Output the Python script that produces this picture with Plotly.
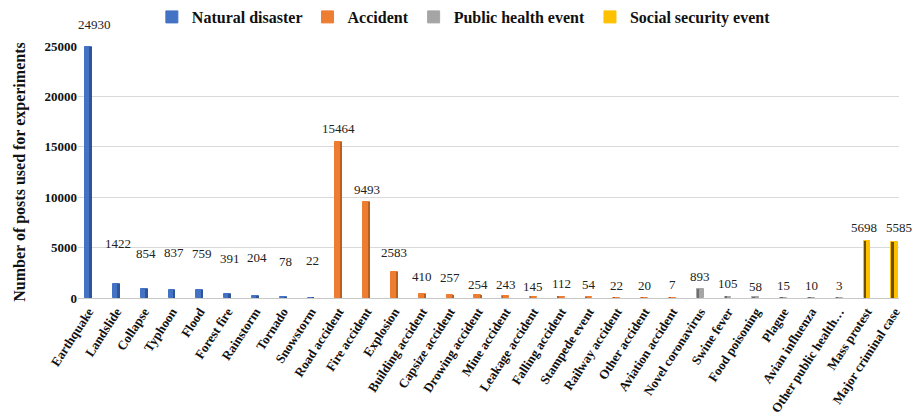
import plotly.graph_objects as go

# Event categories and post counts, grouped by event type
natural_labels = ["Earthquake", "Landslide", "Collapse", "Typhoon", "Flood",
                  "Forest fire", "Rainstorm", "Tornado", "Snowstorm"]
natural_values = [24930, 1422, 854, 837, 759, 391, 204, 78, 22]

accident_labels = ["Road accident", "Fire accident", "Explosion", "Building accident",
                   "Capsize accident", "Drowing accident", "Mine accident",
                   "Leakage accident", "Falling accident", "Stampede event",
                   "Railway accident", "Other accident", "Aviation accident"]
accident_values = [15464, 9493, 2583, 410, 257, 254, 243, 145, 112, 54, 22, 20, 7]

health_labels = ["Novel coronavirus", "Swine fever", "Food poisoning", "Plague",
                 "Avian influenza", "Other public health…"]
health_values = [893, 105, 58, 15, 10, 3]

social_labels = ["Mass protest", "Major criminal case"]
social_values = [5698, 5585]

y_ticks = [0, 5000, 10000, 15000, 20000, 25000]

# Pixel lift of each value label above its bar top
label_lift = [22, 40, 36, 37, 37, 36, 38, 36, 37,
              14, 13, 19, 17, 18, 11, 11, 10, 13, 13, 12, 12, 13,
              13, 13, 11, 12, 12, 12,
              13, 14]
# Horizontal nudge of value labels (pixels)
label_nudge = [6] + [2] * 8 + [0] * 19 + [-3, 4]

groups = [
    ("Natural disaster", natural_labels, natural_values, "#4472C4", "#2F5597"),
    ("Accident", accident_labels, accident_values, "#ED7D31", "#B85F22"),
    ("Public health event", health_labels, health_values, "#A5A5A5", "#6E6E6E"),
    ("Social security event", social_labels, social_values, "#FFC000", "#6B5000"),
]

SERIF = "Liberation Serif"
BAR_W = 0.24
CENTER = 14.5

all_labels = natural_labels + accident_labels + health_labels + social_labels
all_values = natural_values + accident_values + health_values + social_values

fig = go.Figure()
idx = 0
for name, labels, values, front, side in groups:
    n = len(labels)
    positions = list(range(idx, idx + n))
    fig.add_trace(go.Bar(
        x=positions, y=values, name=name,
        width=BAR_W, offset=-BAR_W / 2,
        marker=dict(color=front, line=dict(color=front, width=1)),
        hoverinfo="x+y",
    ))
    # darker side face giving a shallow 3D look
    side_w, side_off = [], []
    for p in positions:
        w = 0.09 * min(1.0, abs(p - CENTER) / 7.0)
        side_w.append(w)
        side_off.append(BAR_W / 2 - w if p < CENTER else -BAR_W / 2)
    fig.add_trace(go.Bar(
        x=positions, y=values, width=side_w, offset=side_off,
        marker=dict(color=side, line=dict(width=0)),
        showlegend=False, hoverinfo="skip",
    ))
    idx += n

for i, (v, lift, dx) in enumerate(zip(all_values, label_lift, label_nudge)):
    fig.add_annotation(
        x=i, y=v, text=str(v), showarrow=False,
        yanchor="middle", yshift=lift, xshift=dx,
        font=dict(family=SERIF, size=13, color="#222222"),
    )

fig.update_layout(
    width=921, height=415,
    font=dict(family=SERIF, color="#111111"),
    margin=dict(l=78, r=22, t=46, b=117, autoexpand=False),
    paper_bgcolor="white", plot_bgcolor="white",
    barmode="overlay", bargap=0,
    showlegend=True,
    legend=dict(
        orientation="h", x=0.47, xanchor="center", y=1.0, yref="container",
        yanchor="top", font=dict(family=SERIF, size=16, color="#111111", weight="bold"),
        itemwidth=30, traceorder="normal",
    ),
    xaxis=dict(
        tickmode="array", tickvals=list(range(len(all_labels))), ticktext=all_labels,
        tickangle=-57, range=[-0.38, 29.15], automargin=False,
        tickfont=dict(family=SERIF, size=13, color="#111111", weight="bold"),
        showgrid=False, showline=True, linecolor="#c8c8c8", linewidth=1,
        ticks="", zeroline=False,
    ),
    yaxis=dict(
        range=[0, 25000], tickmode="array", tickvals=y_ticks,
        ticktext=[str(t) for t in y_ticks], automargin=False,
        tickfont=dict(family=SERIF, size=13, color="#111111", weight="bold"),
        showgrid=True, gridcolor="#d9d9d9", gridwidth=1,
        zeroline=False, showline=False, ticks="",
        title=dict(text="Number of posts used for experiments", standoff=14,
                   font=dict(family=SERIF, size=16, color="#111111", weight="bold")),
    ),
)

fig.write_html("out.html")
